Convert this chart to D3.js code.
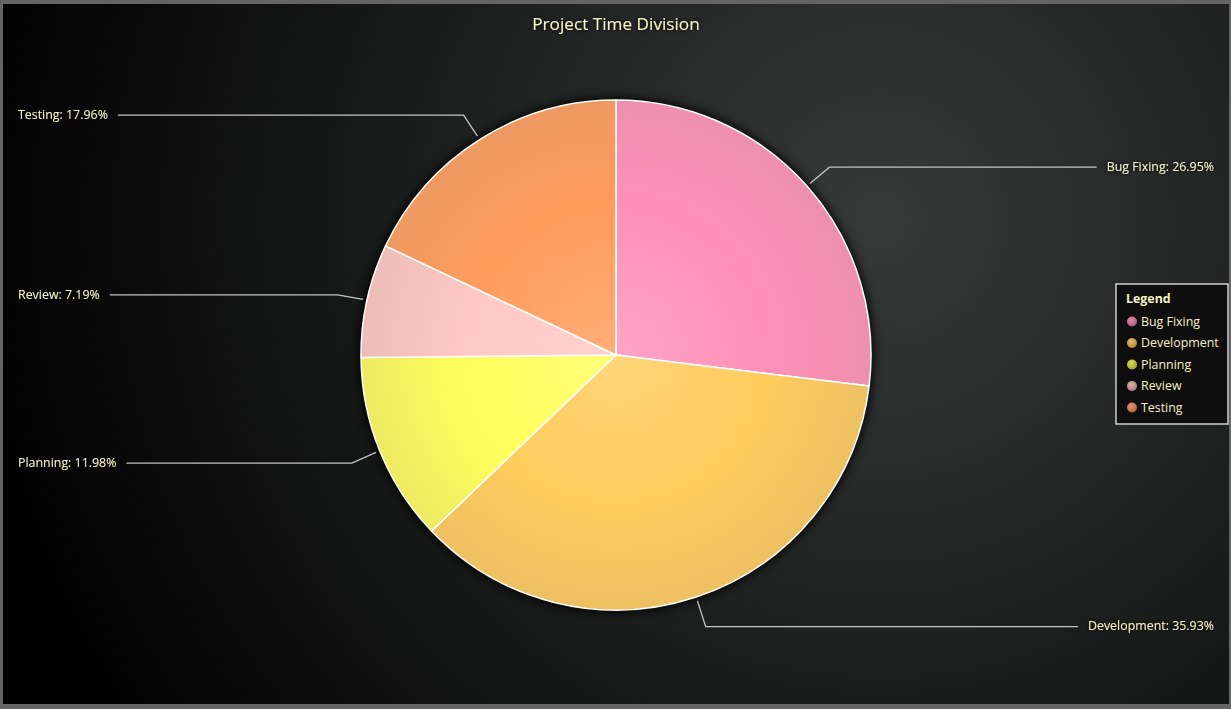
<!DOCTYPE html>
<html><head><meta charset="utf-8">
<script src="https://cdn.jsdelivr.net/npm/d3@7"></script>
<style>
html,body{margin:0;padding:0;background:#646464;}
svg{display:block;}
text{font-family:"Open Sans","Noto Sans",sans-serif;}
</style></head>
<body>
<script>
const categories = ["Bug Fixing","Development","Planning","Review","Testing"];
const values = [45, 60, 20, 12, 30];
const sliceColors = ["#ff90b8","#ffcc5c","#ffff5c","#ffc8c4","#ff9c5c"];
const legendColors = ["#d0688f","#d8a040","#c8c830","#d09494","#d87448"];
const title = "Project Time Division";

const W = 1231, H = 709;
const svg = d3.select("body").append("svg").attr("width", W).attr("height", H);
const defs = svg.append("defs");

const bg = defs.append("radialGradient").attr("id","bg")
  .attr("gradientUnits","userSpaceOnUse").attr("cx",880).attr("cy",220).attr("r",900);
bg.append("stop").attr("offset",0).attr("stop-color","#383939");
bg.append("stop").attr("offset",0.55).attr("stop-color","#1a1b1b");
bg.append("stop").attr("offset",1).attr("stop-color","#020202");

const glow = defs.append("filter").attr("id","glow").attr("x","-20%").attr("y","-50%").attr("width","140%").attr("height","200%");
glow.append("feDropShadow").attr("dx",0).attr("dy",0).attr("stdDeviation",2).attr("flood-color","#000").attr("flood-opacity",1);

const pieShadow = defs.append("filter").attr("id","pieShadow").attr("x","-10%").attr("y","-10%").attr("width","120%").attr("height","120%");
pieShadow.append("feGaussianBlur").attr("stdDeviation",5);

// frame
svg.append("rect").attr("x",0).attr("y",0).attr("width",W).attr("height",H).attr("fill","#646464");
svg.append("rect").attr("x",3).attr("y",4).attr("width",W-5).attr("height",H-9).attr("fill","url(#bg)");

// title
svg.append("text").attr("x",616).attr("y",25.5).attr("text-anchor","middle").attr("dominant-baseline","middle")
  .attr("fill","#f6f2c8").attr("font-size",17.2).attr("filter","url(#glow)").text(title);

const cx = 616, cy = 355, R = 255;
const g = svg.append("g").attr("transform",`translate(${cx},${cy})`);

g.append("circle").attr("r",R+3).attr("fill","#000").attr("opacity",0.85).attr("filter","url(#pieShadow)");

sliceColors.forEach((c,i)=>{
  const gr = defs.append("radialGradient").attr("id","sg"+i).attr("gradientUnits","userSpaceOnUse")
    .attr("cx",0).attr("cy",0).attr("r",R);
  gr.append("stop").attr("offset",0).attr("stop-color",d3.interpolateRgb(c,"#fff")(0.18));
  gr.append("stop").attr("offset",0.6).attr("stop-color",c);
  gr.append("stop").attr("offset",1).attr("stop-color",d3.interpolateRgb(c,"#9a8a80")(0.18));
});

const pie = d3.pie().sort(null).value(d=>d);
const arcs = pie(values);
const arc = d3.arc().innerRadius(0).outerRadius(R);
const total = d3.sum(values);

g.selectAll("path.slice").data(arcs).join("path").attr("class","slice")
  .attr("d",arc).attr("fill",(d,i)=>`url(#sg${i})`)
  .attr("stroke","#ffffff").attr("stroke-width",1.5).attr("stroke-linejoin","round");

// labels
const labelG = svg.append("g");
arcs.forEach((d,i)=>{
  const a = (d.startAngle + d.endAngle)/2;
  const p0 = [cx + (R+4)*Math.sin(a), cy - (R+4)*Math.cos(a)];
  const p1 = [cx + 285*Math.sin(a), cy - 285*Math.cos(a) + 1];
  const right = Math.sin(a) > 0;
  const txt = `${categories[i]}: ${(values[i]/total*100).toFixed(2)}%`;
  const t = labelG.append("text").attr("y",p1[1]+0.5).attr("dominant-baseline","middle")
    .attr("font-size",12.4).attr("fill","#f6f2c8").attr("filter","url(#glow)").text(txt);
  let xEnd;
  if (right) {
    t.attr("x",1214).attr("text-anchor","end");
    const w = t.node().getComputedTextLength();
    xEnd = 1214 - w - 10;
  } else {
    t.attr("x",18).attr("text-anchor","start");
    const w = t.node().getComputedTextLength();
    xEnd = 18 + w + 10;
  }
  labelG.append("polyline").attr("points",[p0,p1,[xEnd,p1[1]]].map(p=>p.join(",")).join(" "))
    .attr("fill","none").attr("stroke","#c4c4c4").attr("stroke-width",1.3);
});

// legend
const lg = svg.append("g");
lg.append("rect").attr("x",1116).attr("y",284).attr("width",112).attr("height",140)
  .attr("fill","#0e0e0e").attr("stroke","#d0d0d0").attr("stroke-width",1.5);
lg.append("text").attr("x",1126).attr("y",299.5).attr("dominant-baseline","middle")
  .attr("font-size",12.4).attr("font-weight","bold").attr("fill","#f6f2c8").text("Legend");
legendColors.forEach((c,i)=>{
  const gr = defs.append("radialGradient").attr("id","lgr"+i).attr("cx","40%").attr("cy","35%").attr("r","65%");
  gr.append("stop").attr("offset",0).attr("stop-color",d3.interpolateRgb(c,"#fff")(0.25));
  gr.append("stop").attr("offset",1).attr("stop-color",d3.interpolateRgb(c,"#000")(0.15));
});
const ly = d3.scaleLinear().domain([0,4]).range([321.5,407.5]);
categories.forEach((c,i)=>{
  lg.append("circle").attr("cx",1132).attr("cy",ly(i)).attr("r",5).attr("fill",`url(#lgr${i})`);
  lg.append("text").attr("x",1141).attr("y",ly(i)+1).attr("dominant-baseline","middle")
    .attr("font-size",12.4).attr("fill","#f6f2c8").text(c);
});
</script>
</body></html>
